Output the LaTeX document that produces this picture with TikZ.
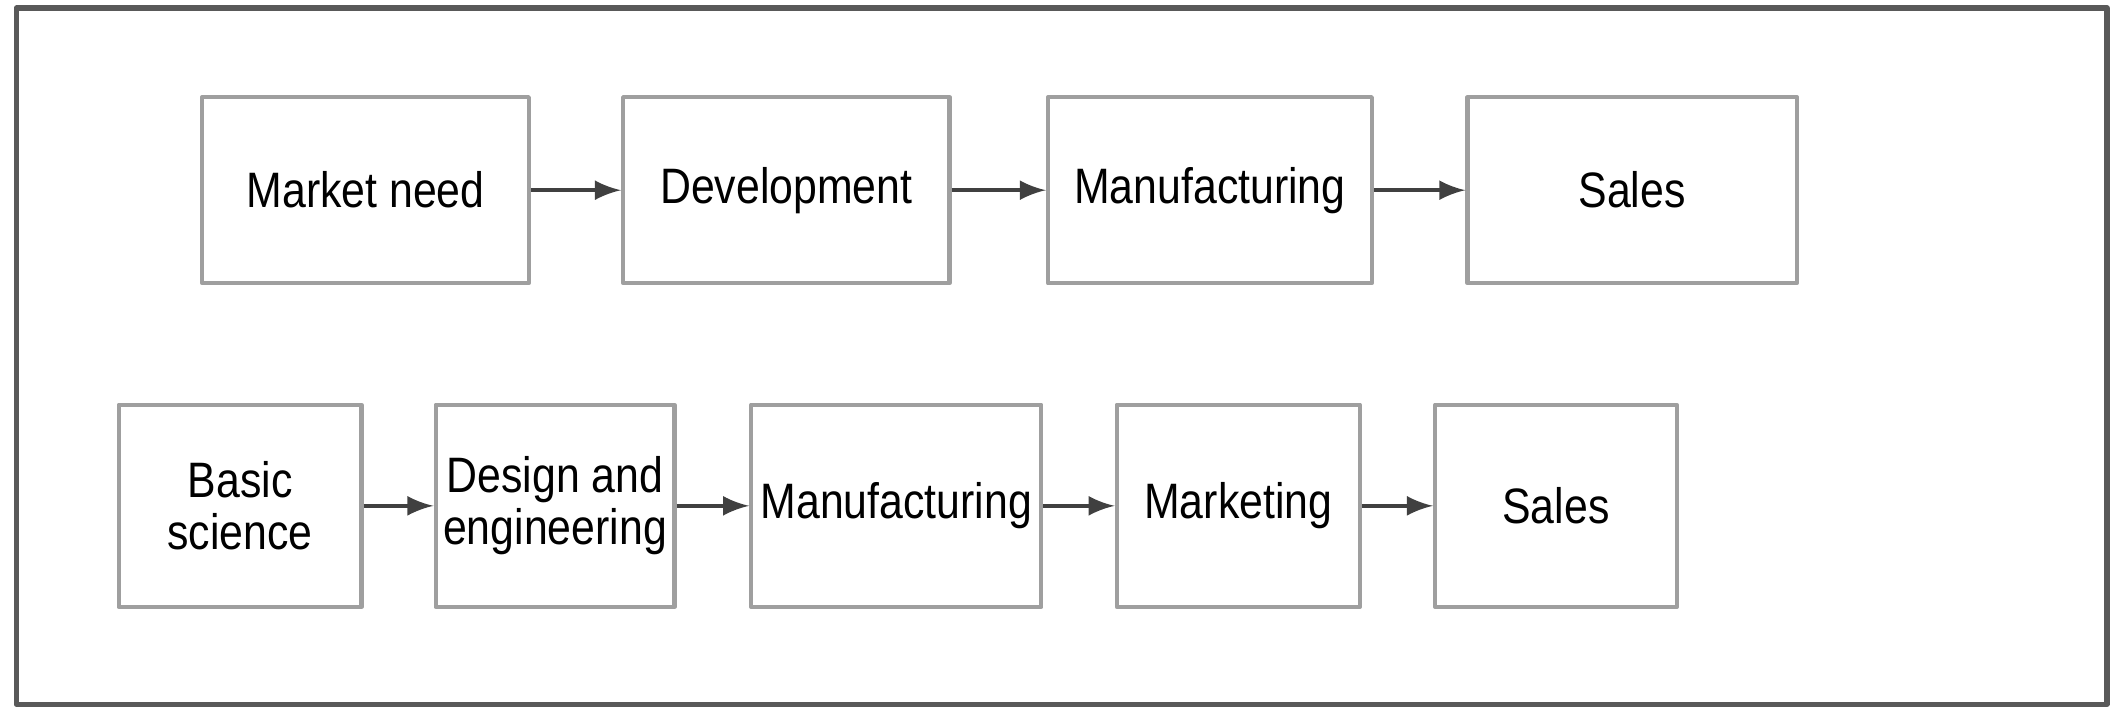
\documentclass[tikz,border=0pt]{standalone}
\usepackage{fontspec}
\setmainfont{Liberation Sans}[FakeStretch=0.86]
\usetikzlibrary{arrows}
\begin{document}
\begin{tikzpicture}[font=\fontsize{10.5}{11}\selectfont, line join=round, >=latex,
 stepbox/.style={draw=gray!75, line width=0.9pt, minimum height=1.38cm, align=center, inner sep=1pt},
 flow/.style={->, draw=black!75, line width=0.9pt}]
 \useasboundingbox (0,0) rectangle (15.68,5.27);
 \draw[line width=1.1pt, color=black!65] (0.12,0.05) rectangle (15.62,5.21);
 % first row
 \node[stepbox, minimum width=2.42cm] (need) at (2.71,3.86) {Market need};
 \node[stepbox, minimum width=2.42cm] (dev) at (5.83,3.86) {Development};
 \node[stepbox, minimum width=2.40cm] (manu) at (8.97,3.86) {Manufacturing};
 \node[stepbox, minimum width=2.44cm] (sales) at (12.10,3.86) {Sales};
 \draw[flow] (need) -- (dev);
 \draw[flow] (dev) -- (manu);
 \draw[flow] (manu) -- (sales);
 % second row
 \node[stepbox, minimum width=1.80cm, minimum height=1.50cm] (basic) at (1.78,1.52) {Basic\\science};
 \node[stepbox, minimum width=1.77cm, minimum height=1.50cm] (design) at (4.115,1.52) {Design and\\engineering};
 \node[stepbox, minimum width=2.15cm, minimum height=1.50cm] (manutwo) at (6.645,1.52) {Manufacturing};
 \node[stepbox, minimum width=1.80cm, minimum height=1.50cm] (market) at (9.18,1.52) {Marketing};
 \node[stepbox, minimum width=1.79cm, minimum height=1.50cm] (salestwo) at (11.535,1.52) {Sales};
 \draw[flow] (basic) -- (design);
 \draw[flow] (design) -- (manutwo);
 \draw[flow] (manutwo) -- (market);
 \draw[flow] (market) -- (salestwo);
\end{tikzpicture}
\end{document}
